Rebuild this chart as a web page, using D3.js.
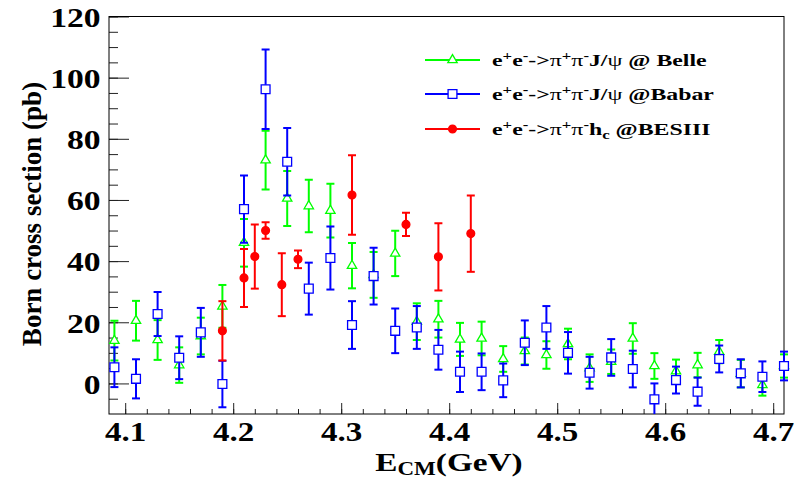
<!DOCTYPE html>
<html>
<head>
<meta charset="utf-8">
<script src="https://cdn.jsdelivr.net/npm/d3@7"></script>
<style>
    body { margin: 0; background: #fff; }
    svg { display: block; }
    text { font-family: "Liberation Serif", "Times New Roman", serif; font-weight: bold; fill: #000; }
</style>
</head>
<body>
<svg id="chart"></svg>
<script>
// energies (GeV) shared by the Belle and Babar points
const energies = [4.09, 4.11, 4.13, 4.15, 4.17, 4.19, 4.21, 4.23, 4.25, 4.27, 4.29,
    4.31, 4.33, 4.35, 4.37, 4.39, 4.41, 4.43, 4.45, 4.47, 4.49, 4.51, 4.53, 4.55,
    4.57, 4.59, 4.61, 4.63, 4.65, 4.67, 4.69, 4.71];

const belleValues = [14, 20.5, 14.2, 6, 15.5, 25.2, 46, 73, 60.5, 58, 56.5,
    38.5, 35.5, 42.5, 20.2, 21, 14.4, 14.7, 8, 10.6, 9.3, 12.9, 5, 7.1,
    14.7, 5.7, 4, 6, 10.4, 3.2, -0.5, 5.7];
const belleErrors = [6.5, 6.5, 6.5, 5.8, 6, 7, 7.8, 9.6, 9, 8.6, 8.8,
    7.4, 7.5, 7.4, 6, 6, 5.4, 5.5, 4.2, 4.4, 4.5, 5, 4.5, 4,
    5, 4.2, 3.8, 4, 3.8, 4.5, 3.5, 3.8];

const babarValues = [5.3, 1.5, 22.7, 8.4, 16.7, -0.2, 57, 96.2, 72.5, 31, 41,
    19.1, 35.1, 17.2, 18.3, 11, 3.8, 3.8, 1, 13.3, 18.3, 10, 3.5, 8.5,
    4.7, -5.2, 1.1, -2.7, 8, 3.3, 2.2, 5.7];
const babarErrors = [6.5, 6.4, 7.2, 7, 8, 7.6, 11, 13, 11, 8.5, 10.3,
    7.8, 9.3, 7.3, 7, 6.5, 6.6, 6, 5.5, 7.3, 7, 6.8, 5.2, 6,
    6, 5.2, 4.4, 4.6, 4.4, 4.6, 5, 4.7];

const besEnergies = [4.19, 4.21, 4.22, 4.23, 4.245, 4.26, 4.31, 4.36, 4.39, 4.42];
const besValues = [17.2, 34.5, 41.5, 50, 32.3, 40.6, 61.6, 52, 41.4, 49];
const besErrors = [9.7, 9.5, 10.5, 2.7, 10.3, 2.9, 13, 3.8, 11, 12.5];

const xTicks = [4.1, 4.2, 4.3, 4.4, 4.5, 4.6, 4.7];
const yTicks = [0, 20, 40, 60, 80, 100, 120];

const width = 794, height = 478;
const frame = { left: 109, right: 784, top: 16.5, bottom: 414 };

const svg = d3.select("#chart")
    .attr("width", width)
    .attr("height", height);

const x = d3.scaleLinear().domain([4.085, 4.71]).range([frame.left, frame.right]);
const y = d3.scaleLinear().domain([-10, 120]).range([frame.bottom, frame.top]);

svg.append("defs").append("clipPath").attr("id", "clip")
    .append("rect")
    .attr("x", 0).attr("y", frame.top)
    .attr("width", width).attr("height", frame.bottom - frame.top);

// axes: ticks point into the frame
const yMinor = svg.append("g").attr("transform", `translate(${frame.left},0)`)
    .call(d3.axisLeft(y).tickValues(d3.range(-5, 121, 5)).tickSize(-9).tickFormat(""));
const yMajor = svg.append("g").attr("transform", `translate(${frame.left},0)`)
    .call(d3.axisLeft(y).tickValues(yTicks).tickSize(-20).tickPadding(8).tickFormat(d3.format("d")));
const xMinor = svg.append("g").attr("transform", `translate(0,${frame.bottom})`)
    .call(d3.axisBottom(x).tickValues(d3.range(4.1, 4.705, 0.02)).tickSize(-5).tickFormat(""));
const xMajor = svg.append("g").attr("transform", `translate(0,${frame.bottom})`)
    .call(d3.axisBottom(x).tickValues(xTicks).tickSize(-11).tickPadding(7).tickFormat(d3.format(".1f")));

[yMinor, yMajor, xMinor, xMajor].forEach(g => {
    g.select(".domain").remove();
    g.selectAll("line").attr("stroke", "#222");
});

yMajor.selectAll("text")
    .attr("font-size", 28)
    .attr("x", -7)
    .attr("dy", "0.35em")
    .attr("transform", "scale(1.2,1)");
xMajor.selectAll("text")
    .attr("font-size", 28)
    .attr("transform", "scale(1.18,1)");

svg.append("rect")
    .attr("x", frame.left).attr("y", frame.top)
    .attr("width", frame.right - frame.left).attr("height", frame.bottom - frame.top)
    .attr("fill", "none").attr("stroke", "#000").attr("stroke-width", 1);

// axis titles
svg.append("text")
    .attr("transform", "translate(41,214) rotate(-90)")
    .attr("text-anchor", "middle")
    .attr("font-size", 27)
    .text("Born cross section (pb)");

const xTitle = svg.append("text")
    .attr("transform", "translate(449,471) scale(1.28,1)")
    .attr("text-anchor", "middle")
    .attr("font-size", 26);
xTitle.append("tspan").text("E");
xTitle.append("tspan").attr("font-size", 18).attr("dy", 3.5).text("CM");
xTitle.append("tspan").attr("dy", -3.5).text("(GeV)");

// markers
const triangle = d3.symbol().type(d3.symbolTriangle).size(38);
const square = d3.symbol().type(d3.symbolSquare).size(78);
const circle = d3.symbol().type(d3.symbolCircle).size(48);

const series = [
    { name: "belle", xs: energies, vs: belleValues, es: belleErrors, color: "#00ff00", marker: triangle, fill: "#fff" },
    { name: "babar", xs: energies, vs: babarValues, es: babarErrors, color: "#0000ff", marker: square, fill: "#fff" },
    { name: "besiii", xs: besEnergies, vs: besValues, es: besErrors, color: "#ff0000", marker: circle, fill: "#ff0000" }
];

const plot = svg.append("g").attr("clip-path", "url(#clip)");
const cap = 4;

series.forEach(s => {
    const pts = s.xs.map((e, i) => ({ e: e, v: s.vs[i], err: s.es[i] }));
    const g = plot.append("g").attr("class", s.name)
        .selectAll("g")
        .data(pts)
        .join("g")
        .attr("stroke", s.color)
        .attr("stroke-width", 2);

    g.append("line")
        .attr("x1", d => x(d.e)).attr("x2", d => x(d.e))
        .attr("y1", d => y(d.v - d.err)).attr("y2", d => y(d.v + d.err));
    g.append("line")
        .attr("x1", d => x(d.e) - cap).attr("x2", d => x(d.e) + cap)
        .attr("y1", d => y(d.v + d.err)).attr("y2", d => y(d.v + d.err));
    g.append("line")
        .attr("x1", d => x(d.e) - cap).attr("x2", d => x(d.e) + cap)
        .attr("y1", d => y(d.v - d.err)).attr("y2", d => y(d.v - d.err));
    g.append("path")
        .attr("d", s.marker)
        .attr("transform", d => `translate(${x(d.e)},${y(d.v)})`)
        .attr("fill", s.fill)
        .attr("stroke-width", 1.3);
});

// legend
const legendItems = [
    { s: series[0], y: 60, parts: [["e"], ["+", "sup"], ["e"], ["-", "sup"], ["->"], ["π", "greek"], ["+", "sup"], ["π", "greek"], ["-", "sup"], ["J/"], ["ψ", "greek"], [" @ Belle"]] },
    { s: series[1], y: 94, parts: [["e"], ["+", "sup"], ["e"], ["-", "sup"], ["->"], ["π", "greek"], ["+", "sup"], ["π", "greek"], ["-", "sup"], ["J/"], ["ψ", "greek"], [" @Babar"]] },
    { s: series[2], y: 129, parts: [["e"], ["+", "sup"], ["e"], ["-", "sup"], ["->"], ["π", "greek"], ["+", "sup"], ["π", "greek"], ["-", "sup"], ["h"], ["c", "sub"], [" @BESIII"]] }
];

const legend = svg.append("g");
legendItems.forEach(item => {
    const row = legend.append("g").attr("stroke", item.s.color);
    row.append("line")
        .attr("x1", 425).attr("x2", 480)
        .attr("y1", item.y).attr("y2", item.y)
        .attr("stroke-width", 2);
    row.append("path")
        .attr("d", item.s.marker)
        .attr("transform", `translate(452.5,${item.y})`)
        .attr("fill", item.s.fill)
        .attr("stroke-width", 1.3);

    const t = legend.append("text")
        .attr("transform", `translate(492,${item.y + 6}) scale(1.4,1)`)
        .attr("font-size", 17)
        .attr("xml:space", "preserve");
    let shift = 0;
    item.parts.forEach(([str, kind]) => {
        const target = kind === "sup" ? -6 : kind === "sub" ? 4 : 0;
        const span = t.append("tspan").attr("dy", target - shift).text(str);
        if (kind === "sup" || kind === "sub") span.attr("font-size", 12);
        if (kind === "greek") span.attr("font-weight", "normal");
        shift = target;
    });
});
</script>
</body>
</html>
